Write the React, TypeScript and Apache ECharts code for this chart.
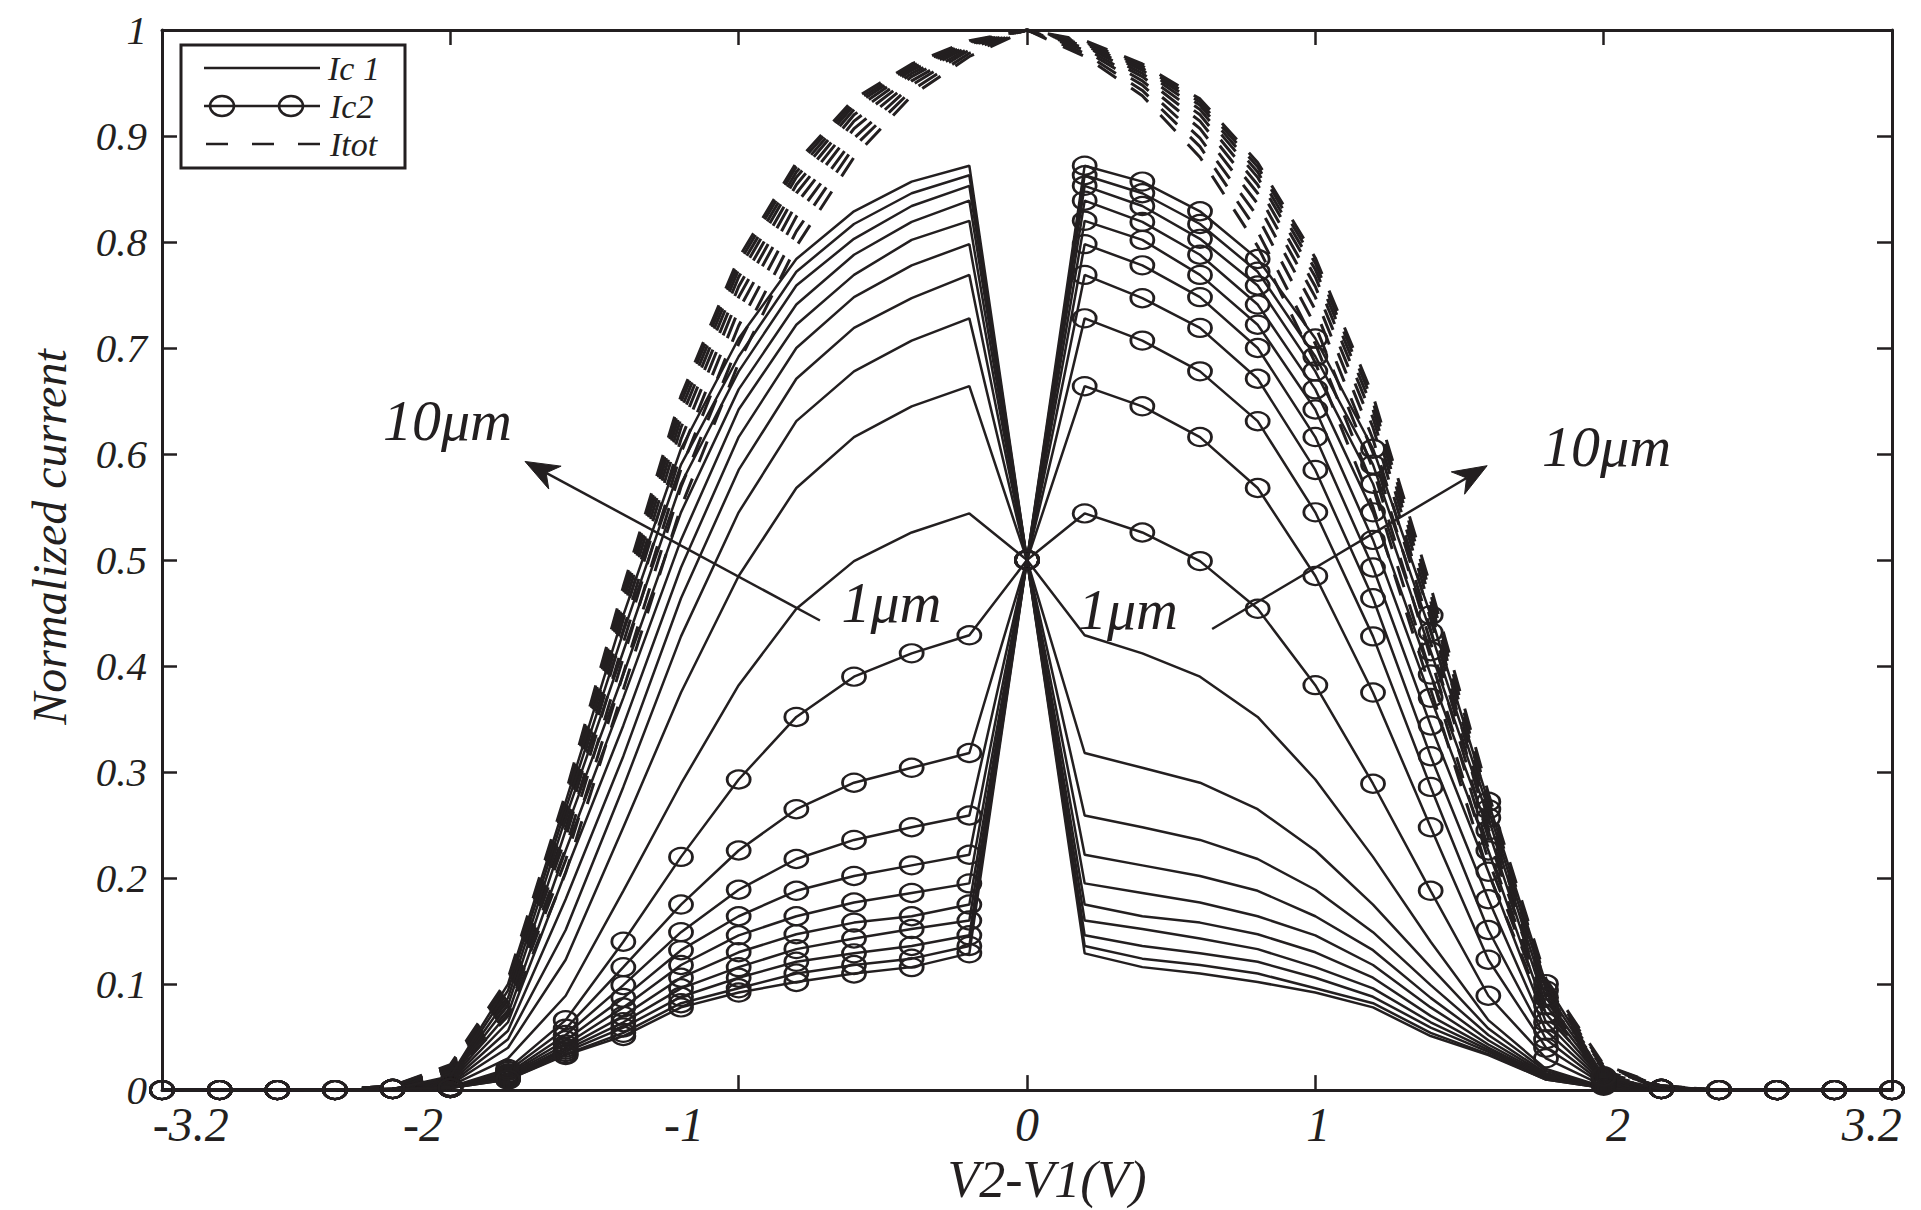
import React, { useEffect, useRef } from "react";
import * as echarts from "echarts";

// x grid of the simulation (V2-V1, volts)
const xValues = [-3.0, -2.8, -2.6, -2.4, -2.2, -2.0, -1.8, -1.6, -1.4, -1.2, -1.0, -0.8, -0.6, -0.4, -0.2, 0.0, 0.2, 0.4, 0.6, 0.8, 1.0, 1.2, 1.4, 1.6, 1.8, 2.0, 2.2, 2.4, 2.6, 2.8, 3.0];

const widthNames = ["1μm", "2μm", "3μm", "4μm", "5μm", "6μm", "7μm", "8μm", "9μm", "10μm"];

// Ic1 (solid lines)
const ic1W1 = [0, 0, 0, 0, 0.001, 0.004, 0.030, 0.089, 0.188, 0.289, 0.382, 0.454, 0.499, 0.526, 0.544, 0.5, 0.429, 0.412, 0.390, 0.352, 0.293, 0.220, 0.140, 0.066, 0.020, 0.003, 0.001, 0, 0, 0, 0];
const ic1W2 = [0, 0, 0, 0, 0.001, 0.005, 0.040, 0.123, 0.248, 0.375, 0.485, 0.568, 0.616, 0.645, 0.664, 0.5, 0.318, 0.304, 0.290, 0.265, 0.226, 0.175, 0.116, 0.058, 0.018, 0.003, 0.001, 0, 0, 0, 0];
const ic1W3 = [0, 0, 0, 0, 0.001, 0.006, 0.048, 0.151, 0.286, 0.428, 0.545, 0.631, 0.678, 0.707, 0.728, 0.5, 0.259, 0.248, 0.236, 0.218, 0.189, 0.149, 0.099, 0.052, 0.016, 0.003, 0.001, 0, 0, 0, 0];
const ic1W4 = [0, 0, 0, 0, 0.001, 0.007, 0.056, 0.180, 0.315, 0.464, 0.585, 0.671, 0.719, 0.747, 0.769, 0.5, 0.222, 0.212, 0.202, 0.188, 0.164, 0.132, 0.087, 0.047, 0.015, 0.002, 0.001, 0, 0, 0, 0];
const ic1W5 = [0, 0, 0, 0, 0.001, 0.008, 0.064, 0.206, 0.344, 0.493, 0.616, 0.700, 0.748, 0.778, 0.798, 0.5, 0.195, 0.186, 0.177, 0.164, 0.146, 0.118, 0.078, 0.043, 0.014, 0.002, 0.001, 0, 0, 0, 0];
const ic1W6 = [0, 0, 0, 0, 0.001, 0.009, 0.072, 0.226, 0.370, 0.519, 0.642, 0.722, 0.769, 0.802, 0.820, 0.5, 0.175, 0.164, 0.158, 0.147, 0.130, 0.106, 0.070, 0.040, 0.013, 0.002, 0.001, 0, 0, 0, 0];
const ic1W7 = [0, 0, 0, 0, 0.001, 0.010, 0.080, 0.245, 0.392, 0.545, 0.661, 0.741, 0.788, 0.819, 0.839, 0.5, 0.160, 0.152, 0.143, 0.133, 0.116, 0.096, 0.064, 0.038, 0.012, 0.002, 0.001, 0, 0, 0, 0];
const ic1W8 = [0, 0, 0, 0, 0.001, 0.011, 0.087, 0.257, 0.414, 0.572, 0.678, 0.759, 0.803, 0.834, 0.853, 0.5, 0.146, 0.136, 0.129, 0.121, 0.106, 0.088, 0.059, 0.036, 0.011, 0.002, 0.001, 0, 0, 0, 0];
const ic1W9 = [0, 0, 0, 0, 0.001, 0.012, 0.094, 0.265, 0.432, 0.590, 0.692, 0.772, 0.817, 0.846, 0.863, 0.5, 0.136, 0.124, 0.118, 0.110, 0.096, 0.082, 0.054, 0.034, 0.010, 0.002, 0.001, 0, 0, 0, 0];
const ic1W10 = [0, 0, 0, 0, 0.001, 0.013, 0.100, 0.272, 0.448, 0.605, 0.709, 0.784, 0.829, 0.857, 0.872, 0.5, 0.129, 0.116, 0.110, 0.102, 0.092, 0.078, 0.051, 0.033, 0.010, 0.002, 0.001, 0, 0, 0, 0];

// Ic2 (solid lines with circles)
const ic2W1 = [0, 0, 0, 0, 0.001, 0.003, 0.020, 0.066, 0.140, 0.220, 0.293, 0.352, 0.390, 0.412, 0.429, 0.5, 0.544, 0.526, 0.499, 0.454, 0.382, 0.289, 0.188, 0.089, 0.030, 0.004, 0.001, 0, 0, 0, 0];
const ic2W2 = [0, 0, 0, 0, 0.001, 0.003, 0.018, 0.058, 0.116, 0.175, 0.226, 0.265, 0.290, 0.304, 0.318, 0.5, 0.664, 0.645, 0.616, 0.568, 0.485, 0.375, 0.248, 0.123, 0.040, 0.005, 0.001, 0, 0, 0, 0];
const ic2W3 = [0, 0, 0, 0, 0.001, 0.003, 0.016, 0.052, 0.099, 0.149, 0.189, 0.218, 0.236, 0.248, 0.259, 0.5, 0.728, 0.707, 0.678, 0.631, 0.545, 0.428, 0.286, 0.151, 0.048, 0.006, 0.001, 0, 0, 0, 0];
const ic2W4 = [0, 0, 0, 0, 0.001, 0.002, 0.015, 0.047, 0.087, 0.132, 0.164, 0.188, 0.202, 0.212, 0.222, 0.5, 0.769, 0.747, 0.719, 0.671, 0.585, 0.464, 0.315, 0.180, 0.056, 0.007, 0.001, 0, 0, 0, 0];
const ic2W5 = [0, 0, 0, 0, 0.001, 0.002, 0.014, 0.043, 0.078, 0.118, 0.146, 0.164, 0.177, 0.186, 0.195, 0.5, 0.798, 0.778, 0.748, 0.700, 0.616, 0.493, 0.344, 0.206, 0.064, 0.008, 0.001, 0, 0, 0, 0];
const ic2W6 = [0, 0, 0, 0, 0.001, 0.002, 0.013, 0.040, 0.070, 0.106, 0.130, 0.147, 0.158, 0.164, 0.175, 0.5, 0.820, 0.802, 0.769, 0.722, 0.642, 0.519, 0.370, 0.226, 0.072, 0.009, 0.001, 0, 0, 0, 0];
const ic2W7 = [0, 0, 0, 0, 0.001, 0.002, 0.012, 0.038, 0.064, 0.096, 0.116, 0.133, 0.143, 0.152, 0.160, 0.5, 0.839, 0.819, 0.788, 0.741, 0.661, 0.545, 0.392, 0.245, 0.080, 0.010, 0.001, 0, 0, 0, 0];
const ic2W8 = [0, 0, 0, 0, 0.001, 0.002, 0.011, 0.036, 0.059, 0.088, 0.106, 0.121, 0.129, 0.136, 0.146, 0.5, 0.853, 0.834, 0.803, 0.759, 0.678, 0.572, 0.414, 0.257, 0.087, 0.011, 0.001, 0, 0, 0, 0];
const ic2W9 = [0, 0, 0, 0, 0.001, 0.002, 0.010, 0.034, 0.054, 0.082, 0.096, 0.110, 0.118, 0.124, 0.136, 0.5, 0.863, 0.846, 0.817, 0.772, 0.692, 0.590, 0.432, 0.265, 0.094, 0.012, 0.001, 0, 0, 0, 0];
const ic2W10 = [0, 0, 0, 0, 0.001, 0.002, 0.010, 0.033, 0.051, 0.078, 0.092, 0.102, 0.110, 0.116, 0.129, 0.5, 0.872, 0.857, 0.829, 0.784, 0.709, 0.605, 0.448, 0.272, 0.100, 0.013, 0.001, 0, 0, 0, 0];

// Itot (dashed lines)
const itotW1 = [0, 0, 0, 0, 0.002, 0.012, 0.070, 0.205, 0.378, 0.550, 0.686, 0.796, 0.880, 0.938, 0.975, 1.0, 0.975, 0.938, 0.880, 0.796, 0.686, 0.550, 0.378, 0.205, 0.070, 0.012, 0.002, 0, 0, 0, 0];
const itotW2 = [0, 0, 0, 0, 0.002, 0.014, 0.075, 0.217, 0.393, 0.569, 0.704, 0.810, 0.890, 0.943, 0.978, 1.0, 0.978, 0.943, 0.890, 0.810, 0.704, 0.569, 0.393, 0.217, 0.075, 0.014, 0.002, 0, 0, 0, 0];
const itotW3 = [0, 0, 0, 0, 0.003, 0.016, 0.080, 0.228, 0.408, 0.586, 0.721, 0.824, 0.898, 0.948, 0.981, 1.0, 0.981, 0.948, 0.898, 0.824, 0.721, 0.586, 0.408, 0.228, 0.080, 0.016, 0.003, 0, 0, 0, 0];
const itotW4 = [0, 0, 0, 0, 0.003, 0.018, 0.084, 0.238, 0.422, 0.601, 0.736, 0.836, 0.907, 0.952, 0.983, 1.0, 0.983, 0.952, 0.907, 0.836, 0.736, 0.601, 0.422, 0.238, 0.084, 0.018, 0.003, 0, 0, 0, 0];
const itotW5 = [0, 0, 0, 0, 0.003, 0.019, 0.088, 0.247, 0.434, 0.614, 0.748, 0.846, 0.914, 0.956, 0.985, 1.0, 0.985, 0.956, 0.914, 0.846, 0.748, 0.614, 0.434, 0.247, 0.088, 0.019, 0.003, 0, 0, 0, 0];
const itotW6 = [0, 0, 0, 0, 0.003, 0.020, 0.092, 0.255, 0.444, 0.625, 0.758, 0.854, 0.920, 0.959, 0.986, 1.0, 0.986, 0.959, 0.920, 0.854, 0.758, 0.625, 0.444, 0.255, 0.092, 0.020, 0.003, 0, 0, 0, 0];
const itotW7 = [0, 0, 0, 0, 0.004, 0.021, 0.096, 0.262, 0.453, 0.634, 0.767, 0.861, 0.925, 0.962, 0.987, 1.0, 0.987, 0.962, 0.925, 0.861, 0.767, 0.634, 0.453, 0.262, 0.096, 0.021, 0.004, 0, 0, 0, 0];
const itotW8 = [0, 0, 0, 0, 0.004, 0.022, 0.099, 0.268, 0.461, 0.642, 0.774, 0.866, 0.929, 0.964, 0.988, 1.0, 0.988, 0.964, 0.929, 0.866, 0.774, 0.642, 0.461, 0.268, 0.099, 0.022, 0.004, 0, 0, 0, 0];
const itotW9 = [0, 0, 0, 0, 0.004, 0.023, 0.102, 0.274, 0.468, 0.649, 0.780, 0.871, 0.932, 0.966, 0.989, 1.0, 0.989, 0.966, 0.932, 0.871, 0.780, 0.649, 0.468, 0.274, 0.102, 0.023, 0.004, 0, 0, 0, 0];
const itotW10 = [0, 0, 0, 0, 0.004, 0.024, 0.105, 0.280, 0.475, 0.655, 0.785, 0.875, 0.935, 0.968, 0.990, 1.0, 0.990, 0.968, 0.935, 0.875, 0.785, 0.655, 0.475, 0.280, 0.105, 0.024, 0.004, 0, 0, 0, 0];

const ic1Sets = [ic1W1, ic1W2, ic1W3, ic1W4, ic1W5, ic1W6, ic1W7, ic1W8, ic1W9, ic1W10];
const ic2Sets = [ic2W1, ic2W2, ic2W3, ic2W4, ic2W5, ic2W6, ic2W7, ic2W8, ic2W9, ic2W10];
const itotSets = [itotW1, itotW2, itotW3, itotW4, itotW5, itotW6, itotW7, itotW8, itotW9, itotW10];

// Axis ticks and labels (labels as printed in the figure)
const xTickValues = [-3, -2, -1, 0, 1, 2, 3];
const xLabelPositions = [-2.9, -2.095, -1.19, 0, 1.01, 2.05, 2.93];
const xTickLabels = ["-3.2", "-2", "-1", "0", "1", "2", "3.2"];
const yTickLabels = ["0", "0.1", "0.2", "0.3", "0.4", "0.5", "0.6", "0.7", "0.8", "0.9", "1"];

// Legend entries
const legendNames = ["Ic 1", "Ic2", "Itot"];

// Annotations (data coordinates)
const annoTexts = [
  { text: "10μm", at: [-2.01, 0.632] },
  { text: "10μm", at: [2.01, 0.607] },
  { text: "1μm", at: [-0.47, 0.46] },
  { text: "1μm", at: [0.35, 0.453] },
];
const annoArrows = [
  { from: [-0.718, 0.443], to: [-1.741, 0.593] },
  { from: [0.642, 0.435], to: [1.596, 0.589] },
];

const INK = "#231f20";
const SERIF = "'Liberation Serif', 'DejaVu Serif', serif";

function pairs(arr: number[]) {
  return xValues.map((x, i) => [x, arr[i]]);
}

export default function App() {
  const ref = useRef<HTMLDivElement>(null);

  useEffect(() => {
    if (!ref.current) return;
    const chart = echarts.init(ref.current, null, { renderer: "svg" });

    const series: any[] = [];
    itotSets.forEach((arr, i) => {
      series.push({
        name: "Itot " + widthNames[i],
        type: "line",
        data: pairs(arr),
        showSymbol: false,
        lineStyle: { color: INK, width: 3, type: [22, 18] },
        z: 2,
        silent: true,
      });
    });
    ic1Sets.forEach((arr, i) => {
      series.push({
        name: "Ic1 " + widthNames[i],
        type: "line",
        data: pairs(arr),
        showSymbol: false,
        lineStyle: { color: INK, width: 2.5 },
        z: 3,
        silent: true,
      });
    });
    ic2Sets.forEach((arr, i) => {
      series.push({
        name: "Ic2 " + widthNames[i],
        type: "line",
        data: pairs(arr),
        symbol: "circle",
        symbolSize: [23, 18],
        showSymbol: true,
        showAllSymbol: true,
        itemStyle: { color: "rgba(0,0,0,0)", borderColor: INK, borderWidth: 2.5 },
        lineStyle: { color: INK, width: 2.5 },
        z: 4,
        silent: true,
      });
    });

    const axisLine = { show: true, onZero: false, lineStyle: { color: INK, width: 3 } };
    const tickStyle = { color: INK, width: 2.5 };

    const option: any = {
      animation: false,
      backgroundColor: "#ffffff",
      grid: { left: 162, right: 29, top: 30, bottom: 103, containLabel: false },
      xAxis: [
        {
          type: "value",
          min: -3,
          max: 3,
          interval: 1,
          position: "bottom",
          axisLine,
          axisTick: { show: true, inside: true, length: 15, lineStyle: tickStyle, customValues: xTickValues },
          axisLabel: {
            customValues: xLabelPositions,
            formatter: (v: number) => {
              const idx = xLabelPositions.indexOf(v);
              return idx >= 0 ? xTickLabels[idx] : "";
            },
            fontSize: 48,
            fontStyle: "italic",
            fontFamily: SERIF,
            color: INK,
            margin: 10,
          },
          splitLine: { show: false },
          name: "V2-V1(V)",
          nameLocation: "middle",
          nameGap: 46,
          nameTextStyle: { fontSize: 52, fontStyle: "italic", fontFamily: SERIF, color: INK, padding: [0, 0, 0, 40] },
        },
        {
          type: "value",
          min: -3,
          max: 3,
          interval: 1,
          position: "top",
          axisLine,
          axisTick: { show: true, inside: true, length: 15, lineStyle: tickStyle },
          axisLabel: { show: false },
          splitLine: { show: false },
        },
      ],
      yAxis: [
        {
          type: "value",
          min: 0,
          max: 1,
          interval: 0.1,
          position: "left",
          axisLine,
          axisTick: { show: true, inside: true, length: 15, lineStyle: tickStyle },
          axisLabel: {
            formatter: (v: number) => yTickLabels[Math.round(v * 10)],
            fontSize: 41,
            fontStyle: "italic",
            fontFamily: SERIF,
            color: INK,
            margin: 15,
          },
          splitLine: { show: false },
          name: "Normalized current",
          nameLocation: "middle",
          nameGap: 89,
          nameTextStyle: { fontSize: 48, fontStyle: "italic", fontFamily: SERIF, color: INK, padding: [0, 0, 0, 46] },
        },
        {
          type: "value",
          min: 0,
          max: 1,
          interval: 0.1,
          position: "right",
          axisLine,
          axisTick: { show: true, inside: true, length: 15, lineStyle: tickStyle },
          axisLabel: { show: false },
          splitLine: { show: false },
        },
      ],
      series,
    };
    chart.setOption(option);

    // Graphic overlay: legend box, annotation arrows and labels
    const g: any[] = [];
    const toPx = (p: number[]) => chart.convertToPixel({ gridIndex: 0 }, p) as number[];

    annoArrows.forEach((a) => {
      const p0 = toPx(a.from);
      const p1 = toPx(a.to);
      const dx = p1[0] - p0[0];
      const dy = p1[1] - p0[1];
      const L = Math.hypot(dx, dy);
      const ux = dx / L, uy = dy / L;
      const nx = -uy, ny = ux;
      const headLen = 34, headW = 13, notch = 10;
      const bx = p1[0] - ux * headLen, by = p1[1] - uy * headLen;
      const mx = p1[0] - ux * (headLen - notch), my = p1[1] - uy * (headLen - notch);
      g.push({
        type: "line",
        shape: { x1: p0[0], y1: p0[1], x2: mx, y2: my },
        style: { stroke: INK, lineWidth: 2.5 },
        z: 10,
      });
      g.push({
        type: "polygon",
        shape: { points: [[p1[0], p1[1]], [bx + nx * headW, by + ny * headW], [mx, my], [bx - nx * headW, by - ny * headW]] },
        style: { fill: INK, stroke: INK, lineWidth: 1 },
        z: 10,
      });
    });

    annoTexts.forEach((t) => {
      const p = toPx(t.at);
      g.push({
        type: "text",
        x: p[0],
        y: p[1],
        style: {
          text: t.text,
          fontSize: 58,
          fontStyle: "italic",
          fontFamily: SERIF,
          fill: INK,
          align: "center",
          verticalAlign: "middle",
        },
        z: 10,
      });
    });

    // legend
    const lx = 181, ly = 45;
    g.push({ type: "rect", shape: { x: lx, y: ly, width: 224, height: 123 }, style: { fill: "#ffffff", stroke: INK, lineWidth: 3 }, z: 20 });
    g.push({ type: "line", shape: { x1: 204, y1: 68, x2: 320, y2: 68 }, style: { stroke: INK, lineWidth: 2.5 }, z: 21 });
    g.push({ type: "line", shape: { x1: 204, y1: 106, x2: 320, y2: 106 }, style: { stroke: INK, lineWidth: 2.5 }, z: 21 });
    g.push({ type: "ellipse", shape: { cx: 222, cy: 106, rx: 12, ry: 10 }, style: { fill: "none", stroke: INK, lineWidth: 2.5 }, z: 21 });
    g.push({ type: "ellipse", shape: { cx: 291, cy: 106, rx: 12, ry: 10 }, style: { fill: "none", stroke: INK, lineWidth: 2.5 }, z: 21 });
    g.push({ type: "line", shape: { x1: 206, y1: 144, x2: 320, y2: 144 }, style: { stroke: INK, lineWidth: 2.5, lineDash: [22, 24] }, z: 21 });
    const legendY = [68, 106, 144];
    const legendX = [328, 330, 330];
    legendNames.forEach((name, i) => {
      g.push({
        type: "text",
        x: legendX[i],
        y: legendY[i],
        style: { text: name, fontSize: 34, lineHeight: 34, fontStyle: "italic", fontFamily: SERIF, fill: INK, align: "left", verticalAlign: "middle" },
        z: 21,
      });
    });

    chart.setOption({ graphic: g });

    return () => {
      chart.dispose();
    };
  }, []);

  return (
    <div
      ref={ref}
      style={{ position: "fixed", left: 0, top: 0, width: 1921, height: 1210, background: "#ffffff" }}
    />
  );
}
